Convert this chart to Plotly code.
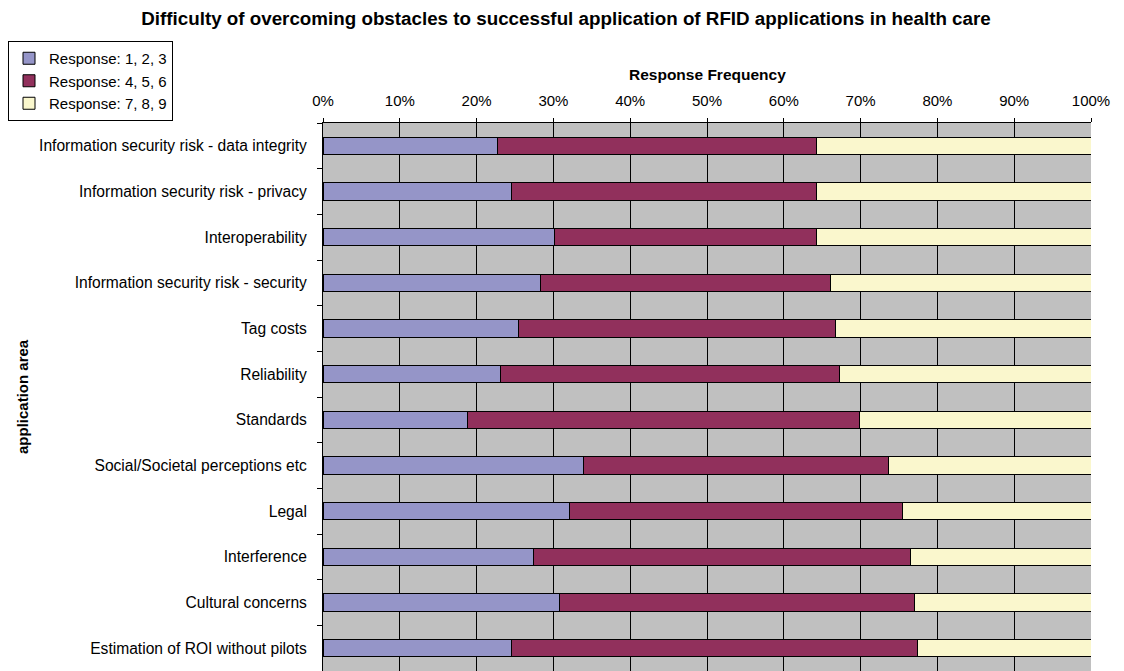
import plotly.graph_objects as go

categories = [
    "Information security risk - data integrity",
    "Information security risk - privacy",
    "Interoperability",
    "Information security risk - security",
    "Tag costs",
    "Reliability",
    "Standards",
    "Social/Societal perceptions etc",
    "Legal",
    "Interference",
    "Cultural concerns",
    "Estimation of ROI without pilots",
]
# cumulative boundaries (percent)
low_pct = [22.7, 24.5, 30.1, 28.3, 25.5, 23.1, 18.8, 33.9, 32.1, 27.4, 30.8, 24.5]
mid_end = [64.2, 64.2, 64.2, 66.1, 66.7, 67.3, 69.8, 73.6, 75.5, 76.5, 77.0, 77.4]
mid_pct = [round(m - l, 1) for l, m in zip(low_pct, mid_end)]
high_pct = [round(100 - m, 1) for m in mid_end]

series_names = ["Response: 1, 2, 3", "Response: 4, 5, 6", "Response: 7, 8, 9"]
series_values = [low_pct, mid_pct, high_pct]
series_colors = ["#9595C8", "#91305C", "#FAF7CD"]

tick_vals = list(range(0, 101, 10))
tick_text = [f"{v}%" for v in tick_vals]

font_family = "Arial, Liberation Sans, sans-serif"

# page has an 8px body margin; figure sized to fill the rest of the window
W, H = 1116, 663
ML, MR, MT, MB = 315, 33, 115, 0
PW, PH = W - ML - MR, H - MT - MB

fig = go.Figure()
for name, vals, col in zip(series_names, series_values, series_colors):
    fig.add_trace(go.Bar(
        y=categories, x=vals, name=name, orientation="h",
        marker=dict(color=col, line=dict(color="black", width=1)),
    ))

fig.update_layout(
    width=W, height=H,
    barmode="stack", bargap=0.62,
    plot_bgcolor="#C0C0C0", paper_bgcolor="white",
    margin=dict(l=ML, r=MR, t=MT, b=MB),
    font=dict(family=font_family, size=15, color="black"),
    title=dict(
        text="<b>Difficulty of overcoming obstacles to successful application of RFID applications in health care</b>",
        x=558 / W, xanchor="center", y=1 - 10 / H, yanchor="middle",
        font=dict(size=18.8, family=font_family),
    ),
    legend=dict(
        x=-ML / PW, xanchor="left", y=1 + (MT - 33) / PH, yanchor="top",
        bordercolor="black", borderwidth=1, bgcolor="white",
        font=dict(size=15), traceorder="normal", itemwidth=30,
        tracegroupgap=0,
    ),
    xaxis=dict(
        side="top", range=[0, 100], tickvals=tick_vals, ticktext=tick_text,
        tickfont=dict(size=15),
        showgrid=True, gridcolor="black", gridwidth=1,
        showline=True, linecolor="black", linewidth=1,
        ticks="outside", ticklen=4, tickcolor="black",
        zeroline=False, fixedrange=True, ticklabelstandoff=6,
    ),
    yaxis=dict(
        autorange="reversed", showline=True, linecolor="black", linewidth=1,
        ticks="outside", ticklen=5, tickcolor="black", tickson="boundaries",
        showgrid=False, ticklabelstandoff=12, tickfont=dict(size=15.6),
    ),
    annotations=[
        dict(text="<b>Response Frequency</b>", xref="paper", yref="paper",
             x=(707 - 8 - ML) / PW, y=1 + (MT - 66) / PH, xanchor="center", yanchor="middle",
             showarrow=False, font=dict(size=15.5)),
        dict(text="<b>application area</b>", xref="paper", yref="paper",
             x=(14 - ML) / PW, y=0.5, xanchor="center", yanchor="middle",
             textangle=-90, showarrow=False, font=dict(size=15)),
    ],
)

fig.write_html("out.html")
